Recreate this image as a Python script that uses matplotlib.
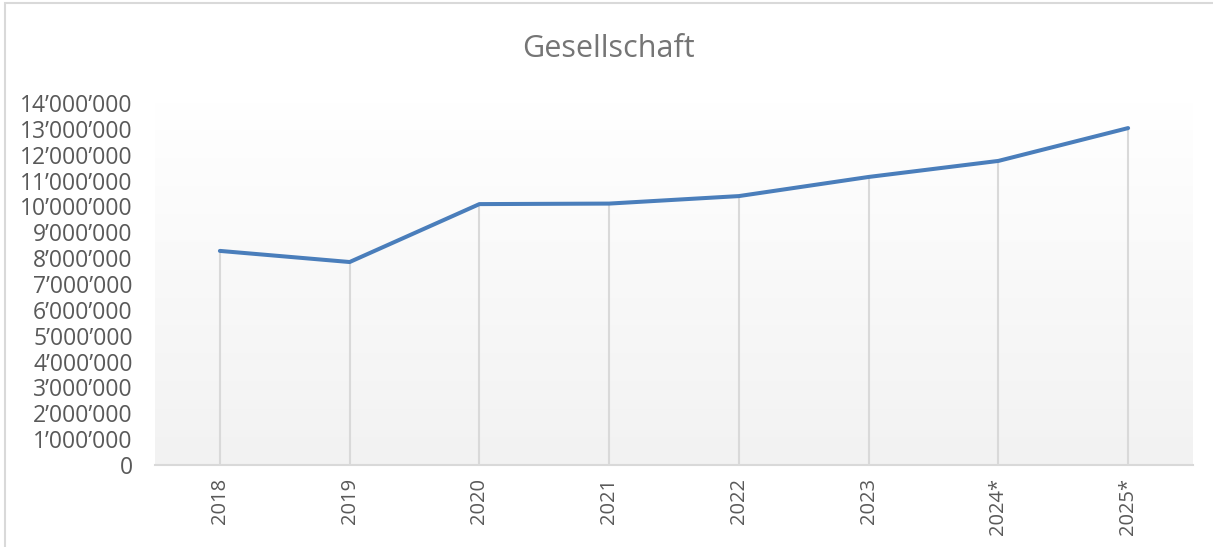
import matplotlib.pyplot as plt
import numpy as np
from matplotlib.ticker import FuncFormatter, MultipleLocator
from matplotlib.colors import LinearSegmentedColormap
from matplotlib.patches import Rectangle

years = ["2018", "2019", "2020", "2021", "2022", "2023", "2024*", "2025*"]
values = [8280000, 7850000, 10090000, 10110000, 10400000, 11140000, 11760000, 13030000]

plt.rcParams['font.family'] = ['Open Sans', 'DejaVu Sans']

fig = plt.figure(figsize=(12.13, 5.47), dpi=100)
ax = fig.add_axes([0.1278, 0.1499, 0.8557, 0.6618])

x = np.arange(len(years))

# background gradient of the plot area
cmap = LinearSegmentedColormap.from_list("bg", ["#F2F2F2", "#FFFFFF"])
grad = np.linspace(0, 1, 256).reshape(-1, 1)
ax.imshow(grad, cmap=cmap, aspect="auto", extent=[0, 1, 0, 1],
          transform=ax.transAxes, origin="lower", zorder=0)

# drop lines
ax.vlines(x, 0, values, color="#D9D9D9", lw=1.5, zorder=1)
ax.plot(x, values, color="#4A7EBB", lw=2.9, solid_capstyle="round",
        solid_joinstyle="round", zorder=3)

ax.set_xlim(-0.5, len(years) - 0.5)
ax.set_ylim(0, 14000000)
ax.yaxis.set_major_locator(MultipleLocator(1000000))
ax.yaxis.set_major_formatter(FuncFormatter(lambda v, p: f"{int(v):,}".replace(",", "\u2019")))
ax.set_xticks(x)
ax.set_xticklabels(years, rotation=90)

for s in ["top", "right", "left"]:
    ax.spines[s].set_visible(False)
ax.spines["bottom"].set_color("#D9D9D9")
ax.spines["bottom"].set_linewidth(1.5)
ax.tick_params(axis="both", length=0, colors="#595959")
ax.tick_params(axis="y", pad=16, labelsize=16.5)
ax.tick_params(axis="x", pad=9, labelsize=14.5)

fig.text(0.502, 0.910, "Gesellschaft", ha="center", va="center",
         fontsize=22, color="#757575")

# chart border
fig.patches.append(Rectangle((5 / 1213, -0.1), 1.2, 1.1 - 3 / 547,
                             transform=fig.transFigure, fill=False,
                             edgecolor="#D9D9D9", lw=1.5))

fig.savefig("out.png", dpi=100)
